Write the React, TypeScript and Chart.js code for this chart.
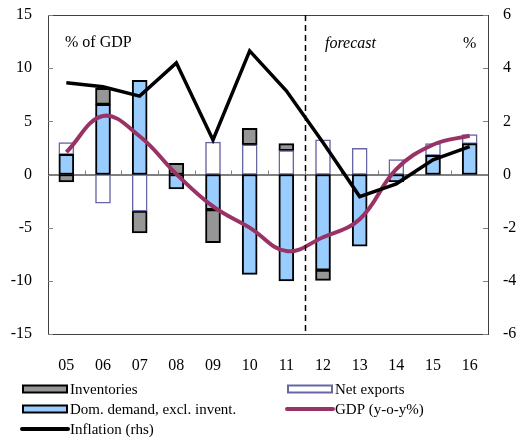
import React, { useEffect, useRef } from "react";
import { Chart, registerables } from "chart.js";

Chart.register(...registerables);

const years = ["05", "06", "07", "08", "09", "10", "11", "12", "13", "14", "15", "16"];
const domDemand = [1.9, 6.6, 8.85, -1.35, -3.3, -9.4, -10.0, -9.0, -6.75, -0.7, 1.8, 2.9];
const netExports = [1.1, -2.7, -3.45, null, 3.05, 2.8, 2.25, 3.25, 2.45, 1.4, 1.1, 0.85];
const inventories = [-0.7, 1.5, -2.05, 1.06, -3.1, 1.55, 0.65, -0.95, null, null, null, null];
const gdp = [2.1, 5.5, 3.6, 0.05, -3.0, -5.0, -7.2, -5.9, -4.2, 0.5, 2.8, 3.65];
const inflation = [3.45, 3.3, 2.95, 4.2, 1.3, 4.65, 3.15, 1.2, -0.83, -0.35, 0.55, 1.05];

const FONT = '"Liberation Serif", "Times New Roman", serif';
const BLUE = "#99ccff";
const GREY = "#969696";
const NAVY = "#6666a3";
const MAROON = "#993366";

const zeroPad = (s: any) => {
  s.paddingTop = 0;
  s.paddingBottom = 0;
  s.paddingLeft = 0;
  s.paddingRight = 0;
};

const decor = {
  id: "decor",
  beforeDatasetsDraw(chart: any) {
    const { ctx, chartArea: a, scales } = chart;
    const y0 = scales.y.getPixelForValue(0);
    ctx.save();
    ctx.strokeStyle = "#000";
    ctx.lineWidth = 1;
    ctx.beginPath();
    ctx.moveTo(a.left, y0 + 0.5);
    ctx.lineTo(a.right, y0 + 0.5);
    ctx.stroke();
    ctx.strokeStyle = "#808080";
    const w = (a.right - a.left) / years.length;
    for (let i = 1; i < years.length; i++) {
      const x = Math.round(a.left + w * i) + 0.5;
      ctx.beginPath();
      ctx.moveTo(x, y0);
      ctx.lineTo(x, y0 - 4);
      ctx.stroke();
    }
    ctx.restore();
  },
  afterDatasetsDraw(chart: any) {
    const { ctx, chartArea: a, scales } = chart;
    ctx.save();
    ctx.strokeStyle = "#404040";
    ctx.lineWidth = 1;
    ctx.strokeRect(a.left + 0.5, a.top + 0.5, a.right - a.left, a.bottom - a.top);
    ctx.strokeStyle = "#808080";
    [-15, -10, -5, 0, 5, 10, 15].forEach((v) => {
      const y = Math.round(scales.y.getPixelForValue(v)) + 0.5;
      ctx.beginPath();
      ctx.moveTo(a.left, y);
      ctx.lineTo(a.left + 5, y);
      ctx.stroke();
    });
    [-6, -4, -2, 0, 2, 4, 6].forEach((v) => {
      const y = Math.round(scales.y1.getPixelForValue(v)) + 0.5;
      ctx.beginPath();
      ctx.moveTo(a.right, y);
      ctx.lineTo(a.right - 5, y);
      ctx.stroke();
    });
    const w = (a.right - a.left) / years.length;
    const xd = Math.round(a.left + w * 7) + 0.5;
    ctx.strokeStyle = "#000";
    ctx.lineWidth = 1.5;
    ctx.setLineDash([6, 4]);
    ctx.beginPath();
    ctx.moveTo(xd, a.top);
    ctx.lineTo(xd, a.bottom);
    ctx.stroke();
    ctx.setLineDash([]);
    ctx.fillStyle = "#000";
    ctx.textBaseline = "alphabetic";
    ctx.textAlign = "left";
    ctx.font = `16px ${FONT}`;
    ctx.fillText("% of GDP", 65, 47);
    ctx.fillText("%", 463, 48);
    ctx.font = `italic 16px ${FONT}`;
    ctx.fillText("forecast", 325, 48);
    ctx.restore();
  },
  afterDraw(chart: any) {
    const { ctx } = chart;
    const ds = chart.data.datasets;
    const find = (l: string) => ds.find((d: any) => d.label === l);
    const items = [
      { d: find("Inventories"), col: 0, row: 0, bar: true },
      { d: find("Net exports"), col: 1, row: 0, bar: true },
      { d: find("Dom. demand, excl. invent."), col: 0, row: 1, bar: true },
      { d: find("GDP (y-o-y%)"), col: 1, row: 1, bar: false },
      { d: find("Inflation (rhs)"), col: 0, row: 2, bar: false },
    ];
    ctx.save();
    ctx.font = `15px ${FONT}`;
    ctx.textBaseline = "middle";
    ctx.textAlign = "left";
    items.forEach((it) => {
      const x = it.col === 0 ? 22 : 287;
      const y = 389 + it.row * 20;
      if (it.bar) {
        ctx.fillStyle = it.d.backgroundColor;
        ctx.fillRect(x + 1, y - 3.5, 44, 7);
        ctx.strokeStyle = it.d.borderColor;
        ctx.lineWidth = 2;
        ctx.strokeRect(x + 1, y - 3.5, 44, 7);
      } else {
        ctx.strokeStyle = it.d.borderColor;
        ctx.lineWidth = 4;
        ctx.lineCap = "round";
        ctx.beginPath();
        ctx.moveTo(x, y);
        ctx.lineTo(x + 46, y);
        ctx.stroke();
      }
      ctx.fillStyle = "#000";
      ctx.fillText(it.d.label, x + 48, y + 1);
    });
    ctx.restore();
  },
};

export default function App() {
  const ref = useRef<HTMLCanvasElement>(null);
  useEffect(() => {
    document.body.style.margin = "0";
    const chart = new Chart(ref.current!, {
      type: "bar",
      data: {
        labels: years,
        datasets: [
          {
            type: "line",
            label: "Inflation (rhs)",
            data: inflation,
            yAxisID: "y1",
            borderColor: "#000",
            backgroundColor: "#000",
            borderWidth: 3.5,
            pointRadius: 0,
            tension: 0,
            order: 0,
          } as any,
          {
            type: "line",
            label: "GDP (y-o-y%)",
            data: gdp,
            yAxisID: "y",
            borderColor: MAROON,
            backgroundColor: MAROON,
            borderWidth: 4,
            pointRadius: 0,
            tension: 0.4,
            order: 1,
          } as any,
          {
            label: "Dom. demand, excl. invent.",
            data: domDemand,
            backgroundColor: BLUE,
            borderColor: "#000",
            borderWidth: 2,
            borderSkipped: false,
            barThickness: 15,
            stack: "s",
            order: 2,
          },
          {
            label: "Net exports",
            data: netExports,
            backgroundColor: "#fff",
            borderColor: NAVY,
            borderWidth: 1.5,
            borderSkipped: false,
            barThickness: 15,
            stack: "s",
            order: 2,
          },
          {
            label: "Inventories",
            data: inventories,
            backgroundColor: GREY,
            borderColor: "#000",
            borderWidth: 2,
            borderSkipped: false,
            barThickness: 15,
            stack: "s",
            order: 2,
          },
        ],
      },
      options: {
        animation: false,
        responsive: false,
        layout: { padding: { top: 15, bottom: 63, left: 0, right: 0 } },
        plugins: { legend: { display: false }, tooltip: { enabled: false } },
        scales: {
          x: {
            stacked: true,
            grid: { display: false, drawTicks: false },
            border: { display: false },
            ticks: { color: "#000", font: { family: FONT, size: 16 }, padding: 22 },
            afterFit: (s: any) => {
              s.height = 40;
              zeroPad(s);
            },
          },
          y: {
            stacked: true,
            position: "left",
            min: -15,
            max: 15,
            grid: { display: false, drawTicks: false },
            border: { display: false },
            ticks: { stepSize: 5, color: "#000", font: { family: FONT, size: 16 }, padding: 16 },
            afterFit: (s: any) => {
              s.width = 48;
              zeroPad(s);
            },
          },
          y1: {
            position: "right",
            min: -6,
            max: 6,
            grid: { display: false, drawTicks: false },
            border: { display: false },
            ticks: { stepSize: 2, color: "#000", font: { family: FONT, size: 16 }, padding: 15 },
            afterFit: (s: any) => {
              s.width = 32;
              zeroPad(s);
            },
          },
        },
      },
      plugins: [decor],
    });
    return () => chart.destroy();
  }, []);
  return (
    <div style={{ position: "absolute", left: 0, top: 0, width: 520, height: 437 }}>
      <canvas ref={ref} width={520} height={437} style={{ display: "block" }} />
    </div>
  );
}
